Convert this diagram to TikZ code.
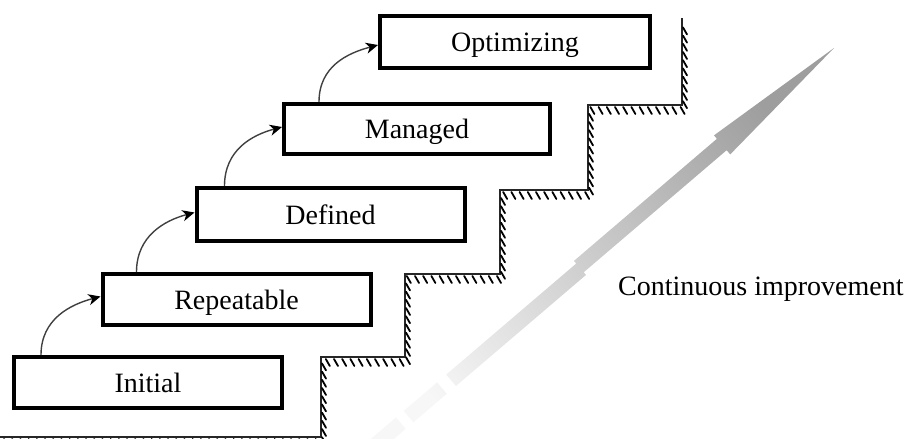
\documentclass[tikz,border=0pt]{standalone}
\usepackage{fontspec}
\setmainfont{Liberation Serif}
\usetikzlibrary{arrows.meta,decorations.markings,calc}

\begin{document}
\begin{tikzpicture}[x=1pt,y=-1pt,
  stage/.style={draw=black, line width=4pt, fill=white, inner sep=0pt,
    minimum width=268pt, minimum height=51pt,
    font=\fontsize{28}{34}\selectfont, text height=19pt, text depth=0pt},
  climb/.style={draw=black!75, line width=1.4pt,
    -{Stealth[length=12pt,width=11pt,inset=3.5pt,color=black]}},
  hatchtick/.style={draw=black, line width=1.8pt, line cap=round},
  stair/.style={draw=black!85, line width=1.3pt,
    postaction={decorate, decoration={markings,
      mark=between positions 3pt and 1 step 8.2pt with {
        \pgftransformresetnontranslations
        \draw[hatchtick] (1pt,-2pt) -- (5pt,-9pt);}}}},
  caption/.style={font=\fontsize{28}{34}\selectfont, inner sep=0pt},
]
\useasboundingbox (0,0) rectangle (906,439);
\clip (0,0) rectangle (906,439);

% rising arrow of continuous improvement (local frame: u from the tip, v across)
\begin{scope}[shift={(834pt,-48pt)}, x={(-0.7604pt,-0.6494pt)}, y={(0.6494pt,-0.7604pt)}]
  \shade[top color=black!38, bottom color=black!3, shading angle=-49.5]
    (0,0) -- (148,13.5) -- (148,8) -- (336,8) -- (336,-7) -- (148,-7) -- (148,-11.5) -- cycle
    (336,-3.5) -- (507,-3.5) -- (507,11.5) -- (336,11.5) -- cycle
    (519,-3.5) -- (563,-3.5) -- (563,11.5) -- (519,11.5) -- cycle
    (573,-3.5) -- (620,-3.5) -- (620,11.5) -- (573,11.5) -- cycle;
\end{scope}

% hatched staircase
\draw[stair] (0,437) -- (321,437) -- (321,357) -- (405,357) -- (405,274)
  -- (500,274) -- (500,190) -- (588,190) -- (588,105) -- (682,105) -- (682,18);

% maturity levels
\node[stage] (initial)   at (148,382.5) {Initial};
\node[stage] (repeat)    at (236.5,299.5) {Repeatable};
\node[stage, minimum height=53pt] (defined) at (330.5,214.5) {Defined};
\node[stage, minimum width=266pt, minimum height=50pt] (managed) at (417,129) {Managed};
\node[stage, minimum width=270pt, minimum height=52pt] (optim) at (515,42) {Optimizing};

% transitions between levels
\draw[climb] ($(initial.north west)+(29,0)$) .. controls +(0,-36) and +(-30,8) .. ($(repeat.west)+(0,-3)$);
\draw[climb] ($(repeat.north west)+(36,0)$) .. controls +(0,-36) and +(-30,8) .. ($(defined.west)+(0,-2)$);
\draw[climb] ($(defined.north west)+(30,0)$) .. controls +(0,-36) and +(-30,8) .. ($(managed.west)+(0,-2)$);
\draw[climb] ($(managed.north west)+(37,0)$) .. controls +(0,-36) and +(-30,8) .. ($(optim.west)+(0,3)$);

\node[caption, anchor=base west] (improve) at (618,295) {Continuous improvement};
\end{tikzpicture}
\end{document}
